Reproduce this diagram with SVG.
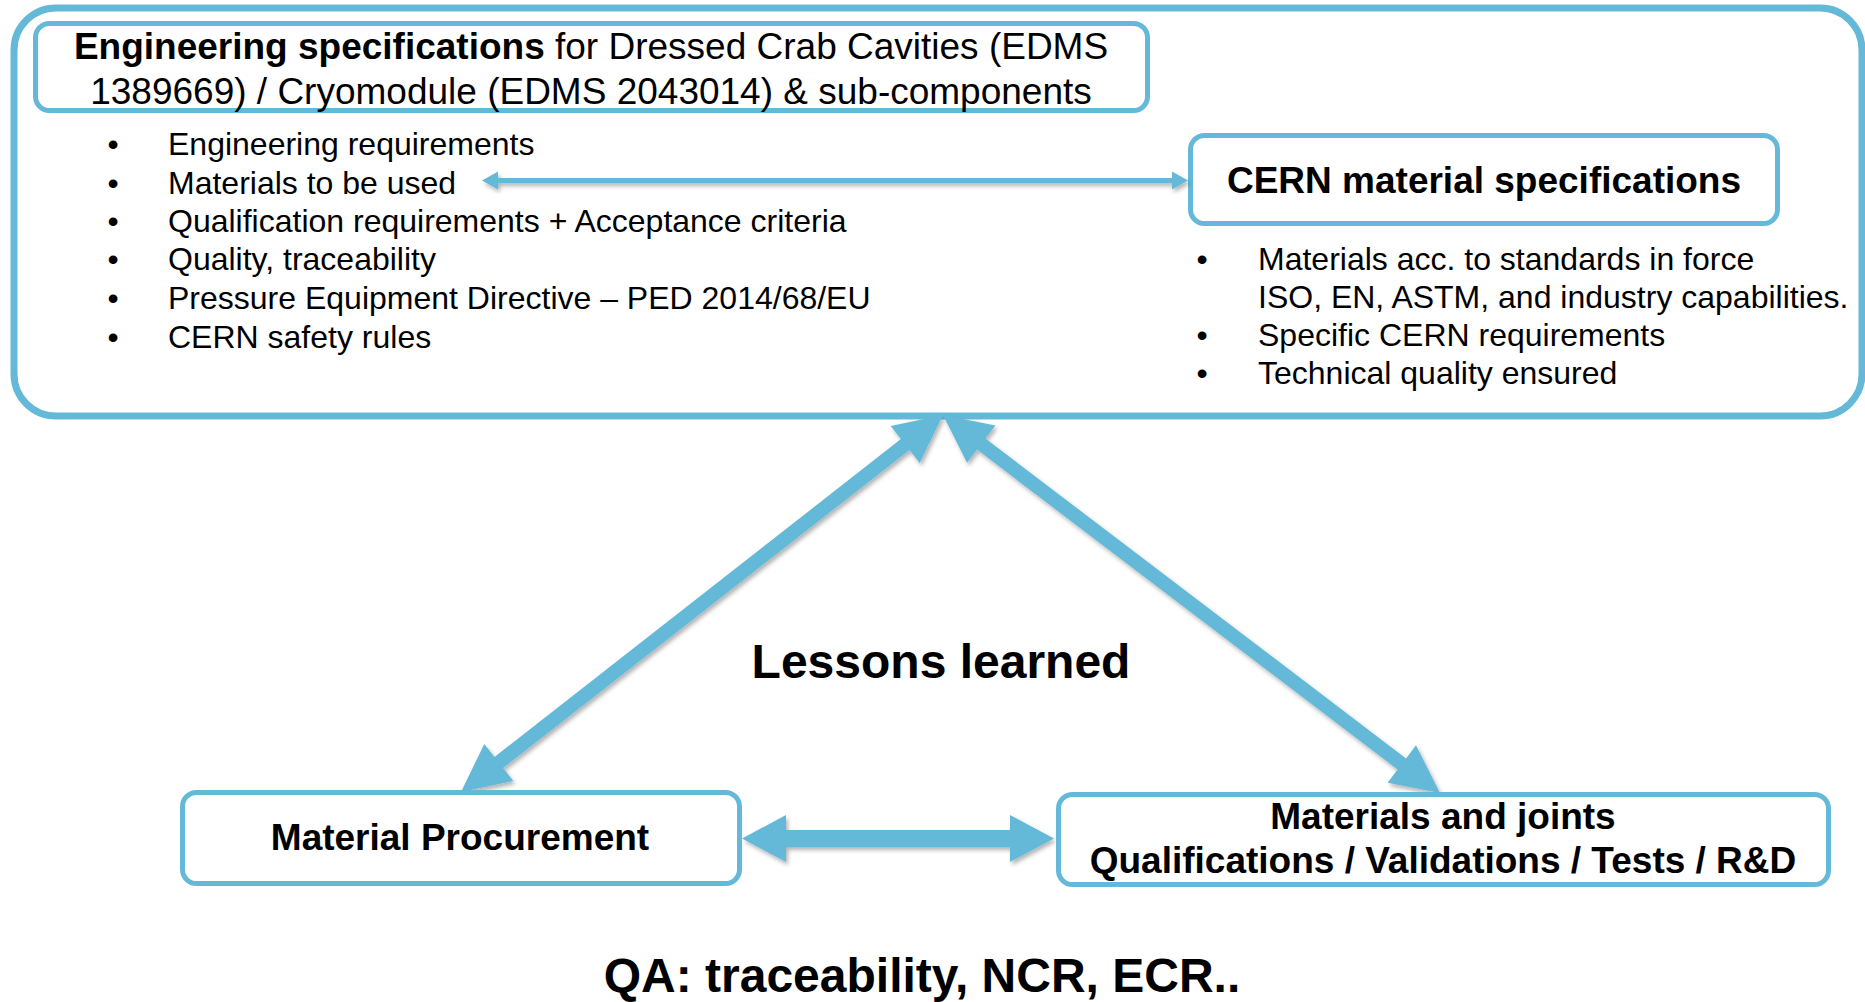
<svg xmlns="http://www.w3.org/2000/svg" width="1865" height="1002" viewBox="0 0 1865 1002">
<style>
.box{fill:#ffffff;stroke:#63b9d7;stroke-width:5}
.outer{fill:#ffffff;stroke:#63b9d7;stroke-width:7}
.arr{fill:#63b9d7;filter:url(#sh)}
text{font-family:"Liberation Sans",Arial,sans-serif;fill:#000000}
.b{font-weight:bold}
.t37{font-size:37px}
.t32{font-size:32px}
.big{font-size:48px;font-weight:bold}
.bul{text-anchor:middle}
.c{text-anchor:middle}
</style>
<defs>
<filter id="sh" x="-10%" y="-10%" width="130%" height="130%">
<feDropShadow dx="2" dy="3" stdDeviation="2" flood-color="#000" flood-opacity="0.3"/>
</filter>
</defs>
<rect width="1865" height="1002" fill="#ffffff"/>
<g id="outer-panel">
<rect class="outer" x="14" y="8" width="1848" height="408" rx="42"/>
</g>
<g id="engineering-specifications">
<rect class="box" x="35.5" y="23.5" width="1112" height="87" rx="14"/>
<text class="t37 c" x="591" y="59"><tspan class="b">Engineering specifications</tspan> for Dressed Crab Cavities (EDMS</text>
<text class="t37 c" x="591" y="104">1389669) / Cryomodule (EDMS 2043014) &amp; sub-components</text>
</g>
<g id="engineering-list">
<text class="t32 bul" x="113" y="155">•</text><text class="t32" x="168" y="155">Engineering requirements</text>
<text class="t32 bul" x="113" y="194">•</text><text class="t32" x="168" y="194">Materials to be used</text>
<text class="t32 bul" x="113" y="232">•</text><text class="t32" x="168" y="232">Qualification requirements + Acceptance criteria</text>
<text class="t32 bul" x="113" y="270">•</text><text class="t32" x="168" y="270">Quality, traceability</text>
<text class="t32 bul" x="113" y="309">•</text><text class="t32" x="168" y="309">Pressure Equipment Directive – PED 2014/68/EU</text>
<text class="t32 bul" x="113" y="348">•</text><text class="t32" x="168" y="348">CERN safety rules</text>
</g>
<g id="cern-material-specifications">
<rect class="box" x="1190.5" y="135.5" width="587" height="88" rx="14"/>
<text class="t37 b c" x="1484" y="193">CERN material specifications</text>
</g>
<g id="cern-list">
<text class="t32 bul" x="1202" y="270">•</text><text class="t32" x="1258" y="270">Materials acc. to standards in force</text>
<text class="t32" x="1258" y="308">ISO, EN, ASTM, and industry capabilities.</text>
<text class="t32 bul" x="1202" y="346">•</text><text class="t32" x="1258" y="346">Specific CERN requirements</text>
<text class="t32 bul" x="1202" y="384">•</text><text class="t32" x="1258" y="384">Technical quality ensured</text>
</g>
<g id="connectors">
<polygon class="arr" points="482,180.5 498,171.5 498,178 1172,178 1172,171.5 1188,180.5 1172,189.5 1172,183 498,183 498,189.5"/>
<polygon class="arr" points="943,415 919.7,463.1 909.5,450.1 503.1,767.9 513.3,780.9 461,792 484.3,743.9 494.5,756.9 900.9,439.1 890.7,426.1"/>
<polygon class="arr" points="943,415 967,462.8 977,449.6 1397.6,769.5 1387.6,782.7 1440,793 1416,745.2 1406,758.4 985.4,438.5 995.4,425.4"/>
<polygon class="arr" points="742,838.5 786,815 786,830 1010,830 1010,815 1054,838.5 1010,862 1010,847 786,847 786,862"/>
</g>
<g id="lessons-learned">
<text class="big c" x="941" y="678">Lessons learned</text>
</g>
<g id="material-procurement">
<rect class="box" x="182.5" y="792.5" width="557" height="91" rx="14"/>
<text class="t37 b c" x="460" y="850">Material Procurement</text>
</g>
<g id="materials-joints">
<rect class="box" x="1058.5" y="794.5" width="770" height="90" rx="14"/>
<text class="t37 b c" x="1443" y="829">Materials and joints</text>
<text class="t37 b c" x="1443" y="873">Qualifications / Validations / Tests / R&amp;D</text>
</g>
<g id="qa">
<text class="big c" x="922" y="992">QA: traceability, NCR, ECR..</text>
</g>
</svg>
